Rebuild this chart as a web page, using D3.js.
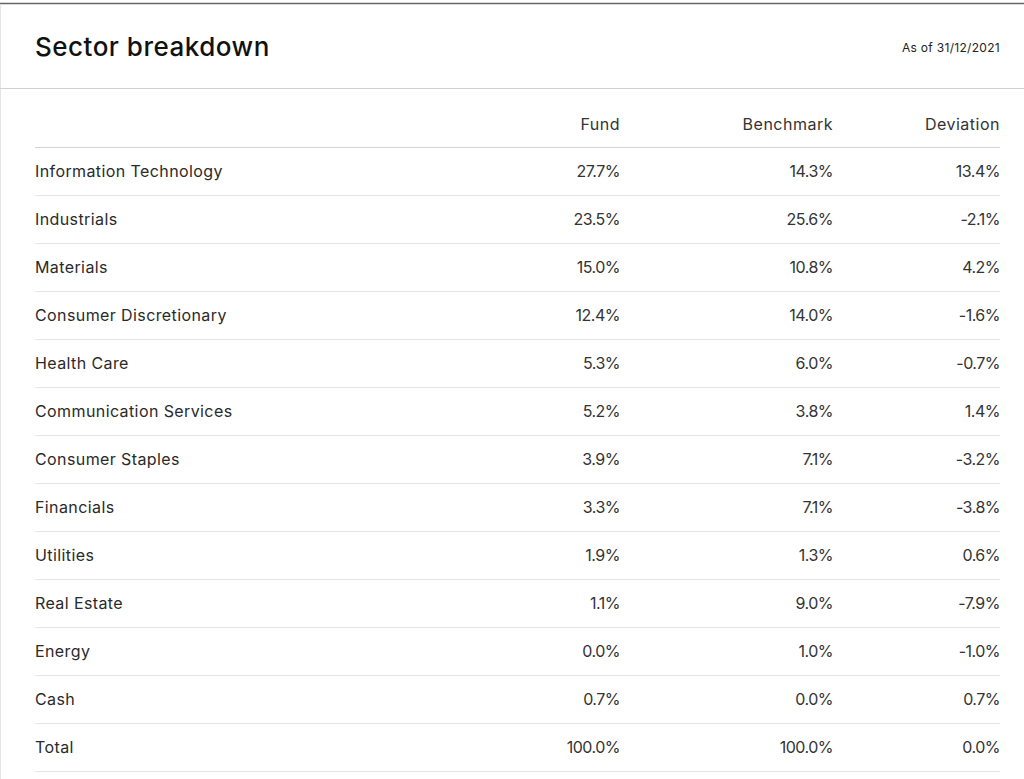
<!DOCTYPE html>
<html>
<head>
<meta charset="utf-8">
<script src="https://cdn.jsdelivr.net/npm/d3@7"></script>
<style>
  html, body { margin: 0; padding: 0; background: #fff; }
  svg { display: block; font-family: Inter, "Noto Sans", sans-serif; }
</style>
</head>
<body>
<div id="table-wrapper"></div>
<script>
const sectors = ["Information Technology", "Industrials", "Materials", "Consumer Discretionary",
	"Health Care", "Communication Services", "Consumer Staples", "Financials",
	"Utilities", "Real Estate", "Energy", "Cash", "Total"];
const fund = [27.7, 23.5, 15.0, 12.4, 5.3, 5.2, 3.9, 3.3, 1.9, 1.1, 0.0, 0.7, 100.0];
const benchmark = [14.3, 25.6, 10.8, 14.0, 6.0, 3.8, 7.1, 7.1, 1.3, 9.0, 1.0, 0.0, 100.0];
const deviation = [13.4, -2.1, 4.2, -1.6, -0.7, 1.4, -3.2, -3.8, 0.6, -7.9, -1.0, 0.7, 0.0];
const columns = ["Fund", "Benchmark", "Deviation"];

const outerwidth = 1024;
const outerheight = 779;
const left = 35, right = 1000;

const svg = d3.select("#table-wrapper")
	.append("svg")
	.attr("width", outerwidth)
	.attr("height", outerheight);

// frame of the card
svg.append("line").attr("x1", 0).attr("x2", outerwidth).attr("y1", 3.5).attr("y2", 3.5)
	.attr("stroke", "#666").attr("stroke-width", 1.5);
svg.append("line").attr("x1", 0.5).attr("x2", 0.5).attr("y1", 4).attr("y2", outerheight)
	.attr("stroke", "#e4e4e4");
svg.append("line").attr("x1", 0).attr("x2", outerwidth).attr("y1", 88.5).attr("y2", 88.5)
	.attr("stroke", "#d0d0d0");

// title + date
svg.append("text").attr("x", left).attr("y", 56)
	.attr("font-size", 26).attr("fill", "#111").attr("font-weight", 500)
	.attr("letter-spacing", 0.5)
	.text("Sector breakdown");
svg.append("text").attr("x", right).attr("y", 52).attr("text-anchor", "end")
	.attr("font-size", 12).attr("fill", "#222")
	.attr("letter-spacing", 0.3)
	.text("As of 31/12/2021");

// rows
const yscale = d3.scaleBand().domain(sectors).range([147, 771]);
const colx = d3.scaleOrdinal().domain(columns).range([620, 833, 1000]);
const fmt = d => d.toFixed(1) + "%";

// header
svg.append("g").selectAll("text").data(columns).join("text")
	.attr("x", d => colx(d))
	.attr("y", 124)
	.attr("dy", "0.35em")
	.attr("text-anchor", "end")
	.attr("font-size", 16)
	.attr("fill", "#333")
	.attr("letter-spacing", 0.5)
	.text(d => d);

svg.append("line").attr("x1", left).attr("x2", right).attr("y1", 147.5).attr("y2", 147.5)
	.attr("stroke", "#d4d4d4");

// row separators
svg.append("g").selectAll("line").data(sectors).join("line")
	.attr("x1", left).attr("x2", right)
	.attr("y1", d => yscale(d) + yscale.bandwidth() + 0.5)
	.attr("y2", d => yscale(d) + yscale.bandwidth() + 0.5)
	.attr("stroke", "#e6e6e6");

const rows = svg.append("g").selectAll("g").data(sectors).join("g")
	.attr("transform", d => "translate(0," + (yscale(d) + yscale.bandwidth() / 2) + ")");

rows.append("text")
	.attr("x", left).attr("dy", "0.35em")
	.attr("font-size", 16).attr("fill", "#2a2a2a")
	.attr("letter-spacing", 0.4)
	.text(d => d);

const series = [fund, benchmark, deviation];
columns.forEach((c, j) => {
	rows.append("text")
		.attr("x", colx(c)).attr("dy", "0.35em")
		.attr("text-anchor", "end")
		.attr("font-size", 16).attr("fill", "#333")
		.attr("letter-spacing", -0.5)
		.text((d, i) => fmt(series[j][i]));
});
</script>
</body>
</html>
